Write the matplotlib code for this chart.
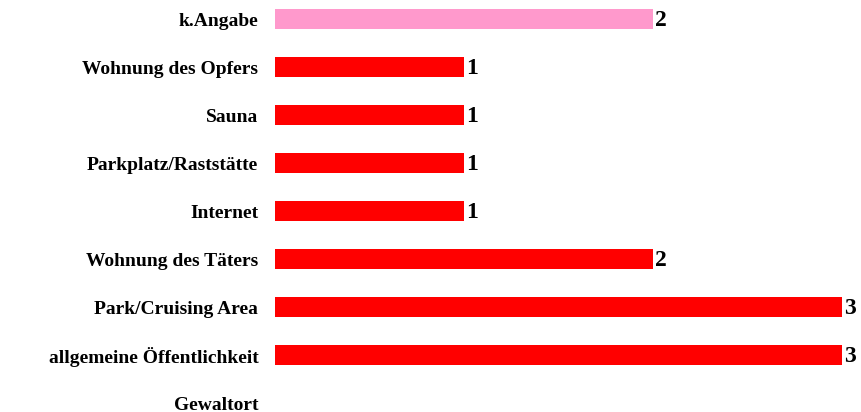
import matplotlib
matplotlib.use('Agg')
import matplotlib.pyplot as plt

# Kategorien von unten nach oben
orte = ['Gewaltort', 'allgemeine Öffentlichkeit', 'Park/Cruising Area',
        'Wohnung des Täters', 'Internet', 'Parkplatz/Raststätte',
        'Sauna', 'Wohnung des Opfers', 'k.Angabe']
anzahl = [None, 3, 3, 2, 1, 1, 1, 1, 2]
farben = ['none', '#ff0000', '#ff0000', '#ff0000', '#ff0000', '#ff0000',
          '#ff0000', '#ff0000', '#ff99cc']

plt.rcParams['font.family'] = ['Liberation Serif', 'DejaVu Serif']

fig = plt.figure(figsize=(8.62, 4.12), dpi=100)
ax = fig.add_axes([275 / 862, 1.8 / 412, 567 / 862, 410.4 / 412])

y = list(range(len(orte)))
werte = [0 if v is None else v for v in anzahl]
ax.barh(y, werte, height=0.42, color=farben, edgecolor='none')

for yi, v in zip(y, anzahl):
    if v is not None:
        ax.text(v + 0.012, yi - 0.04, str(v), va='center', ha='left',
                fontsize=17, fontweight='bold', clip_on=False)

ax.set_xlim(0, 3)
ax.set_ylim(-0.15, 8.4)
ax.set_yticks(y)
ax.set_yticklabels(orte, fontsize=14, fontweight='bold')
ax.tick_params(axis='y', length=0, pad=12)
ax.set_xticks([])
for s in ax.spines.values():
    s.set_visible(False)

fig.savefig('out.png', dpi=100)
